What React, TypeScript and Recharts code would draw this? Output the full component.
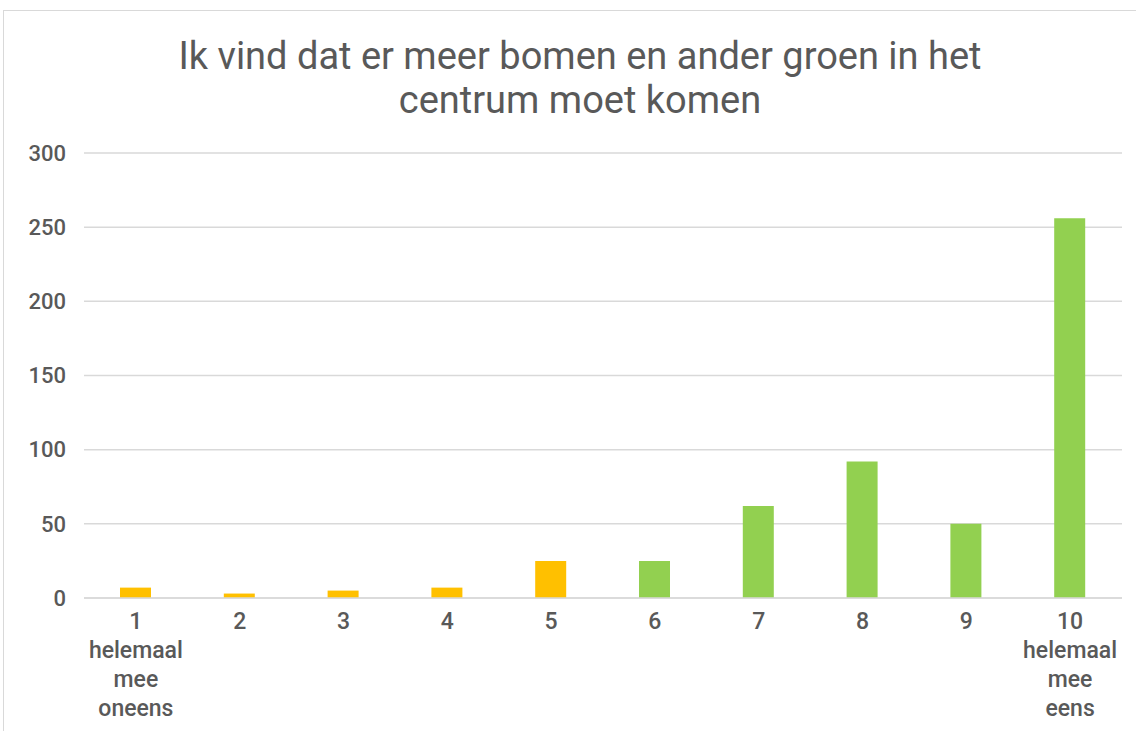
import React from 'react'
import { BarChart, Bar, XAxis, YAxis, CartesianGrid, Cell } from 'recharts'

const categories = [
  '1\nhelemaal\nmee\noneens',
  '2',
  '3',
  '4',
  '5',
  '6',
  '7',
  '8',
  '9',
  '10\nhelemaal\nmee\neens',
]
const counts = [7, 3, 5, 7, 25, 25, 62, 92, 50, 256]
const yTicks = [0, 50, 100, 150, 200, 250, 300]

const YELLOW = '#FFC000'
const GREEN = '#92D050'
const barColors = [YELLOW, YELLOW, YELLOW, YELLOW, YELLOW, GREEN, GREEN, GREEN, GREEN, GREEN]

const TEXT = '#595959'
const FONT = 'Roboto, "DejaVu Sans", sans-serif'

const chartData = categories.map((c, i) => ({ label: c, value: counts[i] }))

// multi-line category labels
const CategoryTick = ({ x, y, payload }: any) => {
  const lines = String(payload.value).split('\n')
  return (
    <text x={x} y={y} textAnchor="middle" fill={TEXT} fontSize={23} fontWeight={500} fontFamily={FONT}>
      {lines.map((l, i) => (
        <tspan key={i} x={x} dy={i === 0 ? 23 : 29}>
          {l}
        </tspan>
      ))}
    </text>
  )
}

export default function App() {
  return (
    <div
      style={{
        position: 'absolute',
        left: 3,
        top: 10,
        width: 1150,
        height: 740,
        border: '1px solid #D9D9D9',
        background: '#fff',
        fontFamily: FONT,
      }}
    >
      <div
        style={{
          position: 'absolute',
          left: 0,
          top: 23,
          width: 1152,
          textAlign: 'center',
          color: TEXT,
          fontSize: 38,
          fontWeight: 400,
          lineHeight: '44px',
        }}
      >
        Ik vind dat er meer bomen en ander groen in het
        <br />
        centrum moet komen
      </div>
      <BarChart
        width={1133}
        height={721}
        data={chartData}
        margin={{ top: 142, right: 15, left: 0, bottom: 0 }}
        style={{ position: 'absolute', left: 0, top: 0 }}
      >
        <CartesianGrid vertical={false} stroke="#D9D9D9" strokeWidth={1.5} />
        <XAxis
          dataKey="label"
          interval={0}
          height={134}
          tickLine={false}
          axisLine={{ stroke: '#D9D9D9', strokeWidth: 1.5 }}
          tick={<CategoryTick />}
        />
        <YAxis
          domain={[0, 300]}
          ticks={yTicks}
          width={80}
          tickLine={false}
          axisLine={false}
          tickSize={0}
          tickMargin={18}
          tick={{ fill: TEXT, fontSize: 22, fontWeight: 500, fontFamily: FONT }}
        />
        <Bar dataKey="value" barSize={31} isAnimationActive={false}>
          {chartData.map((d, i) => (
            <Cell key={d.label} fill={barColors[i]} />
          ))}
        </Bar>
      </BarChart>
    </div>
  )
}
